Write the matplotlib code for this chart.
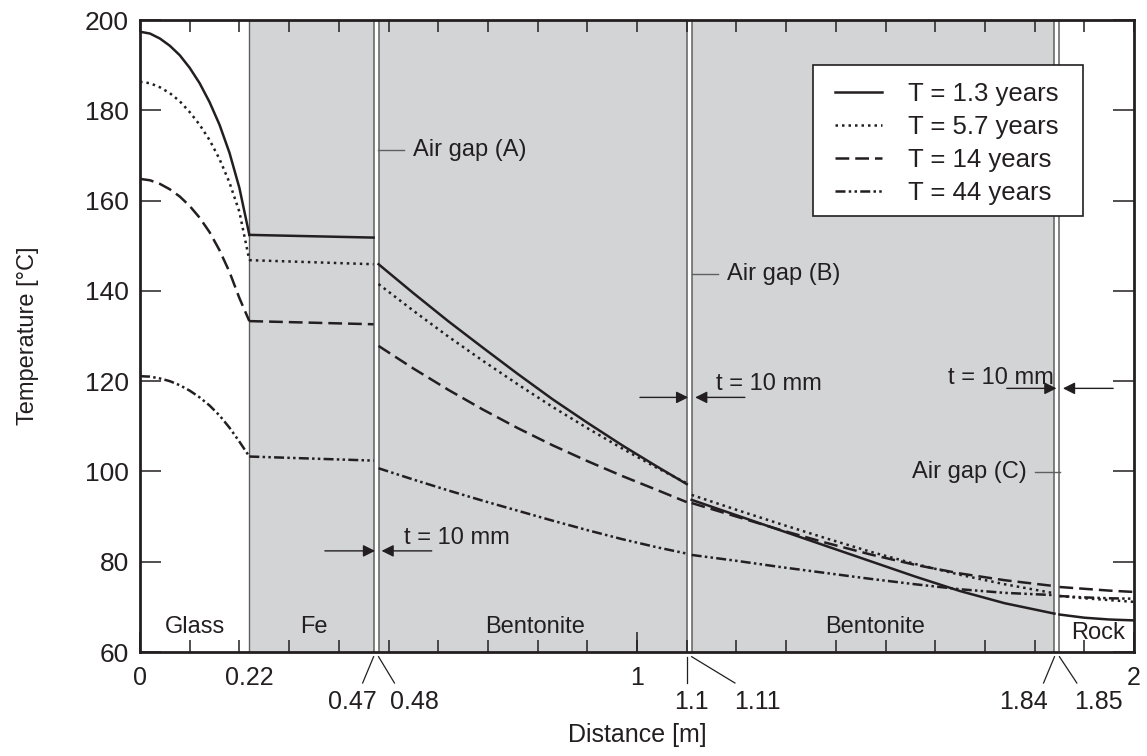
import matplotlib
matplotlib.use("Agg")
import matplotlib.pyplot as plt
from matplotlib.patches import Rectangle
import numpy as np

plt.rcParams['font.family'] = ['Liberation Sans', 'DejaVu Sans']

INK = '#231f20'
FILL = '#d3d4d6'
GAP_EDGE = '#5f5f5f'

# Layer boundaries [m]
glass_end = 0.22
air_gaps = [(0.47, 0.48), (1.10, 1.11), (1.84, 1.85)]

# Sample positions inside each layer [m]
x_glass = [0.00, 0.02, 0.04, 0.06, 0.08, 0.10, 0.12, 0.14, 0.16, 0.18, 0.20, 0.22]
x_fe = [0.22, 0.47]
x_bent1 = [0.48, 0.55, 0.62, 0.69, 0.76, 0.83, 0.90, 0.97, 1.04, 1.10]
x_bent2 = [1.11, 1.20, 1.29, 1.38, 1.47, 1.56, 1.65, 1.74, 1.84]
x_rock = [1.85, 1.90, 1.95, 2.00]

# Temperature [°C], T = 1.3 years
t13_glass = [197.4, 197.0, 195.9, 194.3, 192.2, 189.4, 186.0, 181.8, 176.8, 170.6, 162.8, 152.4]
t13_fe = [152.4, 151.8]
t13_bent1 = [145.9, 139.5, 133.3, 127.4, 121.6, 116.0, 110.8, 105.8, 101.1, 97.2]
t13_bent2 = [93.7, 90.3, 86.9, 83.5, 80.1, 76.7, 73.5, 70.8, 68.5]
t13_rock = [68.3, 67.6, 67.2, 67.0]

# Temperature [°C], T = 5.7 years
t57_glass = [186.3, 186.0, 185.1, 183.8, 182.0, 179.6, 176.8, 173.4, 169.2, 164.0, 157.5, 146.8]
t57_fe = [146.8, 145.9]
t57_bent1 = [141.5, 135.6, 129.9, 124.5, 119.3, 114.3, 109.6, 105.1, 100.8, 97.4]
t57_bent2 = [94.8, 91.5, 88.3, 85.2, 82.2, 79.5, 77.1, 75.0, 73.0]
t57_rock = [72.4, 71.9, 71.5, 71.1]

# Temperature [°C], T = 14 years
t14_glass = [164.8, 164.5, 163.7, 162.5, 160.9, 158.8, 156.2, 153.0, 149.0, 144.2, 138.4, 133.3]
t14_fe = [133.3, 132.6]
t14_bent1 = [127.8, 122.8, 118.1, 113.7, 109.6, 105.8, 102.3, 99.0, 95.9, 93.2]
t14_bent2 = [93.0, 90.0, 87.0, 84.2, 81.6, 79.3, 77.4, 75.9, 74.6]
t14_rock = [74.4, 74.0, 73.6, 73.3]

# Temperature [°C], T = 44 years
t44_glass = [121.1, 121.0, 120.6, 120.0, 119.1, 117.9, 116.4, 114.6, 112.4, 109.7, 106.6, 103.3]
t44_fe = [103.3, 102.4]
t44_bent1 = [100.7, 98.2, 95.8, 93.5, 91.3, 89.1, 87.0, 85.0, 83.2, 81.8]
t44_bent2 = [81.5, 80.2, 78.8, 77.5, 76.2, 75.0, 73.9, 73.1, 72.6]
t44_rock = [72.4, 72.1, 71.9, 71.8]

series_labels = ['T = 1.3 years', 'T = 5.7 years', 'T = 14 years', 'T = 44 years']
series_segments = [
    [t13_glass, t13_fe, t13_bent1, t13_bent2, t13_rock],
    [t57_glass, t57_fe, t57_bent1, t57_bent2, t57_rock],
    [t14_glass, t14_fe, t14_bent1, t14_bent2, t14_rock],
    [t44_glass, t44_fe, t44_bent1, t44_bent2, t44_rock],
]
segment_x = [x_glass, x_fe, x_bent1, x_bent2, x_rock]
series_styles = [
    '-',
    (0, (1.0, 1.6)),
    (0, (5.5, 2.4)),
    (0, (4.0, 1.3, 1.0, 1.3, 1.0, 1.3)),
]

# Layer names and where they are written
layer_names = ['Glass', 'Fe', 'Bentonite', 'Bentonite', 'Rock']
layer_label_x = [0.111, 0.349, 0.795, 1.479, 1.927]
layer_label_y = [65.6, 65.6, 65.6, 65.6, 64.2]

W, H = 1147, 756
fig = plt.figure(figsize=(W / 100, H / 100), dpi=100)
ax_l, ax_r, ax_t, ax_b = 140, 1134, 20, 652
ax = fig.add_axes([ax_l / W, (H - ax_b) / H, (ax_r - ax_l) / W, (ax_b - ax_t) / H])
ax_w = ax_r - ax_l
ax_h = ax_b - ax_t

ax.set_xlim(0, 2)
ax.set_ylim(60, 200)

# Shaded buffer layers and air gaps
ax.axvspan(glass_end, air_gaps[-1][0], color=FILL, lw=0, zorder=0)
ax.axvline(glass_end, color=GAP_EDGE, lw=1.0, zorder=1)
for g0, g1 in air_gaps:
    ax.axvspan(g0, g1, color='white', lw=0, zorder=0.5)
    ax.axvline(g0, color=GAP_EDGE, lw=1.1, zorder=1)
    ax.axvline(g1, color=GAP_EDGE, lw=1.1, zorder=1)

# Temperature profiles, one segment per layer
for label, segs, ls in zip(series_labels, series_segments, series_styles):
    for i, (xs, ts) in enumerate(zip(segment_x, segs)):
        ax.plot(xs, ts, color=INK, lw=1.8, ls=ls, zorder=3,
                solid_joinstyle='round', label=label if i == 0 else None)

FS = 17
for name, lx, ly in zip(layer_names, layer_label_x, layer_label_y):
    ax.text(lx, ly, name, ha='center', va='center', fontsize=FS, color=INK, zorder=4)

# Air gap call-outs
gap_callouts = [
    ('Air gap (A)', 0.479, 0.531, 171.3, 0.549, 'left'),
    ('Air gap (B)', 1.110, 1.162, 143.7, 1.181, 'left'),
    ('Air gap (C)', 1.851, 1.801, 99.8, 1.785, 'right'),
]
for text, x0, x1, y, tx, ha in gap_callouts:
    ax.plot([x0, x1], [y, y], color=GAP_EDGE, lw=1.0, zorder=4)
    ax.text(tx, y, text, ha=ha, va='center', fontsize=FS, color=INK, zorder=4)

# Gap thickness markers
thickness_marks = [
    # left tail, left tip, right tail, right tip, arrow y, text x, text y
    (0.372, 0.473, 0.587, 0.486, 82.4, 0.531, 85.3),
    (1.006, 1.103, 1.217, 1.117, 116.4, 1.159, 119.4),
    (1.744, 1.844, 1.958, 1.857, 118.4, 1.626, 120.6),
]
arrow_kw = dict(arrowstyle='-|>', color=INK, lw=1.0, mutation_scale=18,
                shrinkA=0, shrinkB=0)
for lt, ltip, rt, rtip, ay, tx, ty in thickness_marks:
    ax.annotate('', xy=(ltip, ay), xytext=(lt, ay), arrowprops=arrow_kw, zorder=4)
    ax.annotate('', xy=(rtip, ay), xytext=(rt, ay), arrowprops=arrow_kw, zorder=4)
    ax.text(tx, ty, 't = 10 mm', ha='left', va='center', fontsize=FS, color=INK, zorder=4)

# Axes frame and ticks
for sp in ax.spines.values():
    sp.set_color(INK)
    sp.set_linewidth(2.0)
ax.set_yticks(np.arange(60, 201, 20))
ax.tick_params(axis='y', direction='in', length=15, width=1.1, color=INK,
               left=True, right=True, labelsize=19, labelcolor=INK, pad=8)
ax.set_xticks([0, 1, 2])
ax.set_xticks(np.round(np.arange(0, 2.01, 0.1), 2), minor=True)
ax.xaxis.remove_overlapping_locs = False
ax.tick_params(axis='x', which='major', direction='in', length=14.4, width=1.1,
               color=INK, bottom=True, top=False, labelbottom=False)
ax.tick_params(axis='x', which='minor', direction='in', length=8.6, width=1.1,
               color=INK, bottom=True, top=True)

# Distance labels under the axis, with leader lines for the thin layers
XFS = 18
xt = ax.get_xaxis_transform()
row1_labels = ['0', '0.22', '1', '2']
row1_pos = [0.0, 0.22, 1.0, 2.0]
for lab, px in zip(row1_labels, row1_pos):
    ax.text(px, -26 / ax_h, lab, transform=xt, ha='center', va='center',
            fontsize=XFS, color=INK, clip_on=False)

row2_labels = ['0.47', '0.48', '1.1', '1.11', '1.84', '1.85']
row2_anchor = [0.47, 0.48, 1.10, 1.11, 1.84, 1.85]
row2_leader_end = [0.448, 0.512, 1.10, 1.197, 1.818, 1.885]
row2_pos = [0.427, 0.553, 1.110, 1.243, 1.777, 1.928]
for lab, a, e, px in zip(row2_labels, row2_anchor, row2_leader_end, row2_pos):
    ax.plot([a, e], [-4.7 / ax_h, -31 / ax_h], transform=xt, color=INK,
            lw=0.9, clip_on=False)
    ax.text(px, -50 / ax_h, lab, transform=xt, ha='center', va='center',
            fontsize=XFS, color=INK, clip_on=False)

fig.text(637 / W, 1 - 735 / H, 'Distance [m]', ha='center', va='center',
         fontsize=18, color=INK)
fig.text(28 / W, 1 - 336 / H, 'Temperature [°C]', ha='center', va='center',
         rotation=90, fontsize=17, color=INK)

# Legend: entries without a frame, drawn over a separate white box
box_l, box_t, box_r, box_b = 813, 65, 1083, 216
ax.add_patch(Rectangle(((box_l - ax_l) / ax_w, (ax_b - box_b) / ax_h),
                       (box_r - box_l) / ax_w, (box_b - box_t) / ax_h,
                       transform=ax.transAxes, facecolor='white',
                       edgecolor=INK, lw=1.2, zorder=4.9))
leg = ax.legend(loc='upper left',
                bbox_to_anchor=((835 - ax_l) / ax_w, (ax_b - 81.7) / ax_h),
                fontsize=18.5, frameon=False, handlelength=1.83,
                handletextpad=1.0, labelspacing=0.36, borderpad=0,
                borderaxespad=0)
for t in leg.get_texts():
    t.set_color(INK)
leg.set_zorder(5)

fig.savefig('out.png', dpi=100)
